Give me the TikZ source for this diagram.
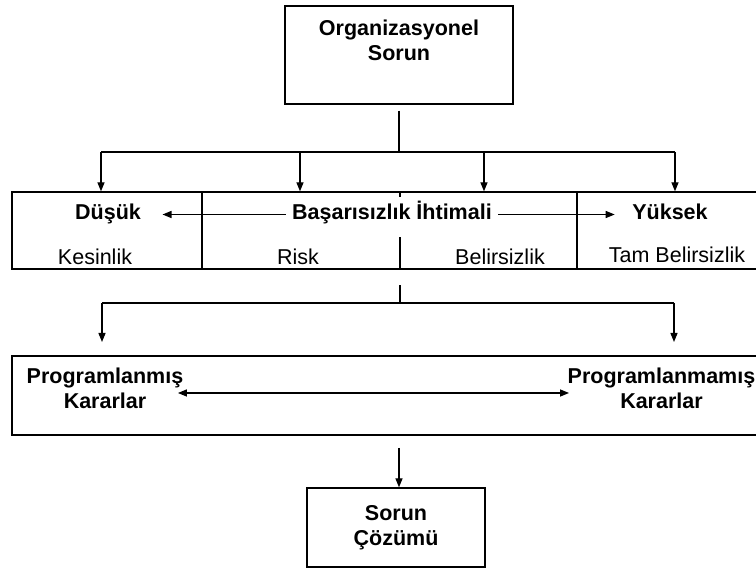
\documentclass[tikz,border=0pt]{standalone}
\usepackage{fontspec}
\setmainfont{Liberation Sans}
\usetikzlibrary{arrows.meta,positioning}
\tikzset{
  kutu/.style={draw,inner sep=0pt},
  yazi/.style={inner sep=2pt,text height=0.75em,text depth=0.25em},
  yazi2/.style={inner sep=2pt,align=center},
  kalin/.style={font=\fontsize{21.5}{25}\selectfont\bfseries},
}
\begin{document}
\begin{tikzpicture}[>={Triangle[length=9pt,width=7pt]},line width=1.3pt,x=1pt,y=-1pt,font=\fontsize{21.5}{25}\selectfont]
\fill[white] (0,0) rectangle (756,569);
\useasboundingbox (0,0) rectangle (756,569);
% ust kutu
\node[kutu,minimum width=228pt,minimum height=98pt] (org) at (399,55) {};
\node[yazi2,kalin,below=12pt of org.north] (orgyazi) {Organizasyonel\\Sorun};
% basarisizlik ihtimali satiri
\foreach \ad/\x/\w in {h1/107/190,h2/301/198,h3/488.5/177,h4/668.5/183}
{
\node[kutu,minimum width=\w pt,minimum height=77pt] (\ad) at (\x,230.5) {};
}
\node[yazi,kalin] (dus) at (108,217.5) {Düşük};
\node[yazi,kalin,fill=white,inner xsep=6pt,minimum height=40pt] (bas) at (392,217.5) {Başarısızlık İhtimali};
\node[yazi,kalin] (yuk) at (670,217.5) {Yüksek};
\node[yazi] (kes) at (95,262) {Kesinlik};
\node[yazi] (risk) at (298,262) {Risk};
\node[yazi] (bel) at (500,262) {Belirsizlik};
\node[yazi] (tam) at (677,260) {Tam Belirsizlik};
\draw[->] ([yshift=3pt]bas.west) -- ([xshift=19pt,yshift=3pt]dus.east);
\draw[->] ([yshift=3pt]bas.east) -- ([xshift=-15pt,yshift=3pt]yuk.west);
% dallar
\coordinate (d1) at (399,152);
\coordinate (a1) at (101,152);
\coordinate (a2) at (300,152);
\coordinate (a3) at (484,152);
\coordinate (a4) at (675,152);
\draw ([yshift=-6pt]org.south) -- (d1);
\draw (a1) -- (a4);
\foreach \i/\h in {1/h1,2/h2,3/h3,4/h4}
{
\draw[->] (a\i) -- (a\i |- \h.north);
}
% kararlar
\node[kutu,minimum width=748pt,minimum height=79pt] (kar) at (386,395.5) {};
\node[yazi2,kalin] (pl) at (105,388.5) {Programlanmış\\Kararlar};
\node[yazi2,kalin] (pr) at (661.5,388.5) {Programlanmamış\\Kararlar};
\draw[<->] ([xshift=-8pt,yshift=-4.5pt]pl.east) -- ([xshift=4pt,yshift=-4.5pt]pr.west);
\coordinate (d2) at (400,303);
\coordinate (b1) at (102,303);
\coordinate (b2) at (674,303);
\draw (d2) -- ++(0,-18);
\draw (b1) -- (b2);
\foreach \b in {b1,b2}
{
\draw[->] (\b) -- +(0,39);
}
% sorun cozumu
\node[kutu,minimum width=178pt,minimum height=79pt] (coz) at (396,527.5) {};
\node[yazi2,kalin] (cozyazi) at (coz) {Sorun\\Çözümü};
\coordinate (d3) at (399,448);
\draw[->] (d3) -- (d3 |- coz.north);
\end{tikzpicture}
\end{document}
